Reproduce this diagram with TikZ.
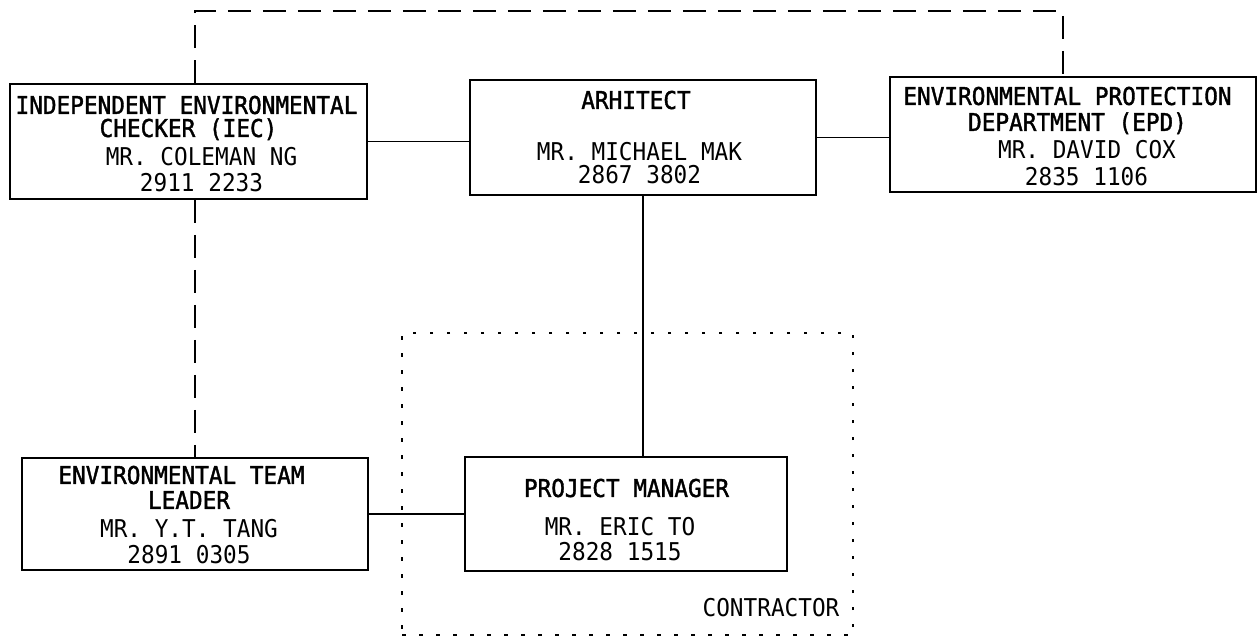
\documentclass[tikz,border=0pt]{standalone}
\usepackage{fontspec}
\newfontfamily\cadfont{DejaVu Sans Mono}[FakeStretch=0.927]
\newfontfamily\cadbold{DejaVu Sans Mono}[FakeStretch=0.927,FakeBold=1.5]
\begin{document}
\begin{tikzpicture}[x=1pt,y=-1pt,
  box/.style={draw,line width=1.6pt,rectangle,inner sep=0pt},
  txt/.style={inner sep=0pt,anchor=center,text height=17.9pt,text depth=0pt,font=\cadfont\fontsize{24.5}{25}\selectfont},
  ttl/.style={txt,font=\cadbold\fontsize{24.5}{25}\selectfont},
  conn/.style={line width=1.3pt},
  dashconn/.style={line width=1.3pt,dash pattern=on 23pt off 12pt},
  dotbox/.style={draw,line width=1.7pt,rectangle,inner sep=0pt,dash pattern=on 3.5pt off 13.5pt}]
\useasboundingbox (0,0) rectangle (1258,639);
\fill[white] (0,0) rectangle (1258,639);

% contractor group
\node[dotbox,minimum width=451pt,minimum height=302pt] (contractor) at (627.5,484) {};
\node[txt] (contractortxt) at (771,608) {CONTRACTOR};

% boxes
\node[box,minimum width=357pt,minimum height=115pt] (iec) at (188.5,141.5) {};
\node[box,minimum width=346pt,minimum height=115pt] (arch) at (643,137.5) {};
\node[box,minimum width=366pt,minimum height=115pt] (epd) at (1073,134.5) {};
\node[box,minimum width=346pt,minimum height=112pt] (etl) at (195,514) {};
\node[box,minimum width=322pt,minimum height=114pt] (pm) at (626,514) {};

% texts
\node[ttl] (iec1) at (186.5,105) {INDEPENDENT ENVIRONMENTAL};
\node[ttl] (iec2) at (188.5,128) {CHECKER (IEC)};
\node[txt] (iec3) at (201.5,157) {MR. COLEMAN NG};
\node[txt] (iec4) at (201.5,183) {2911 2233};

\node[ttl] (arch1) at (636,100) {ARHITECT};
\node[txt] (arch2) at (639.5,152) {MR. MICHAEL MAK};
\node[txt] (arch3) at (639.5,175) {2867 3802};

\node[ttl] (epd1) at (1067.5,96) {ENVIRONMENTAL PROTECTION};
\node[ttl] (epd2) at (1077.5,122) {DEPARTMENT (EPD)};
\node[txt] (epd3) at (1087,150) {MR. DAVID COX};
\node[txt] (epd4) at (1086.5,177) {2835 1106};

\node[ttl] (etl1) at (181.5,475) {ENVIRONMENTAL TEAM};
\node[ttl] (etl2) at (189,500) {LEADER};
\node[txt] (etl3) at (189,529) {MR. Y.T. TANG};
\node[txt] (etl4) at (189,555) {2891 0305};

\node[ttl] (pm1) at (626.5,488) {PROJECT MANAGER};
\node[txt] (pm2) at (620,527) {MR. ERIC TO};
\node[txt] (pm3) at (620,552) {2828 1515};

% solid connectors
\draw[conn] (iec.east) -- (iec.east -| arch.west);
\draw[conn] (arch.east) -- (arch.east -| epd.west);
\draw[conn] (arch.south) -- (arch.south |- pm.north);
\draw[conn] (etl.east) -- (pm.west);

% dashed connectors
\coordinate (tl) at (195,11);
\coordinate (tr) at (1063,11);
\draw[dashconn] (iec.north -| tl) -- (tl) -- (tr) -- (tr |- epd.north);
\draw[dashconn] (iec.south -| tl) -- (tl |- etl.north);
\end{tikzpicture}
\end{document}
